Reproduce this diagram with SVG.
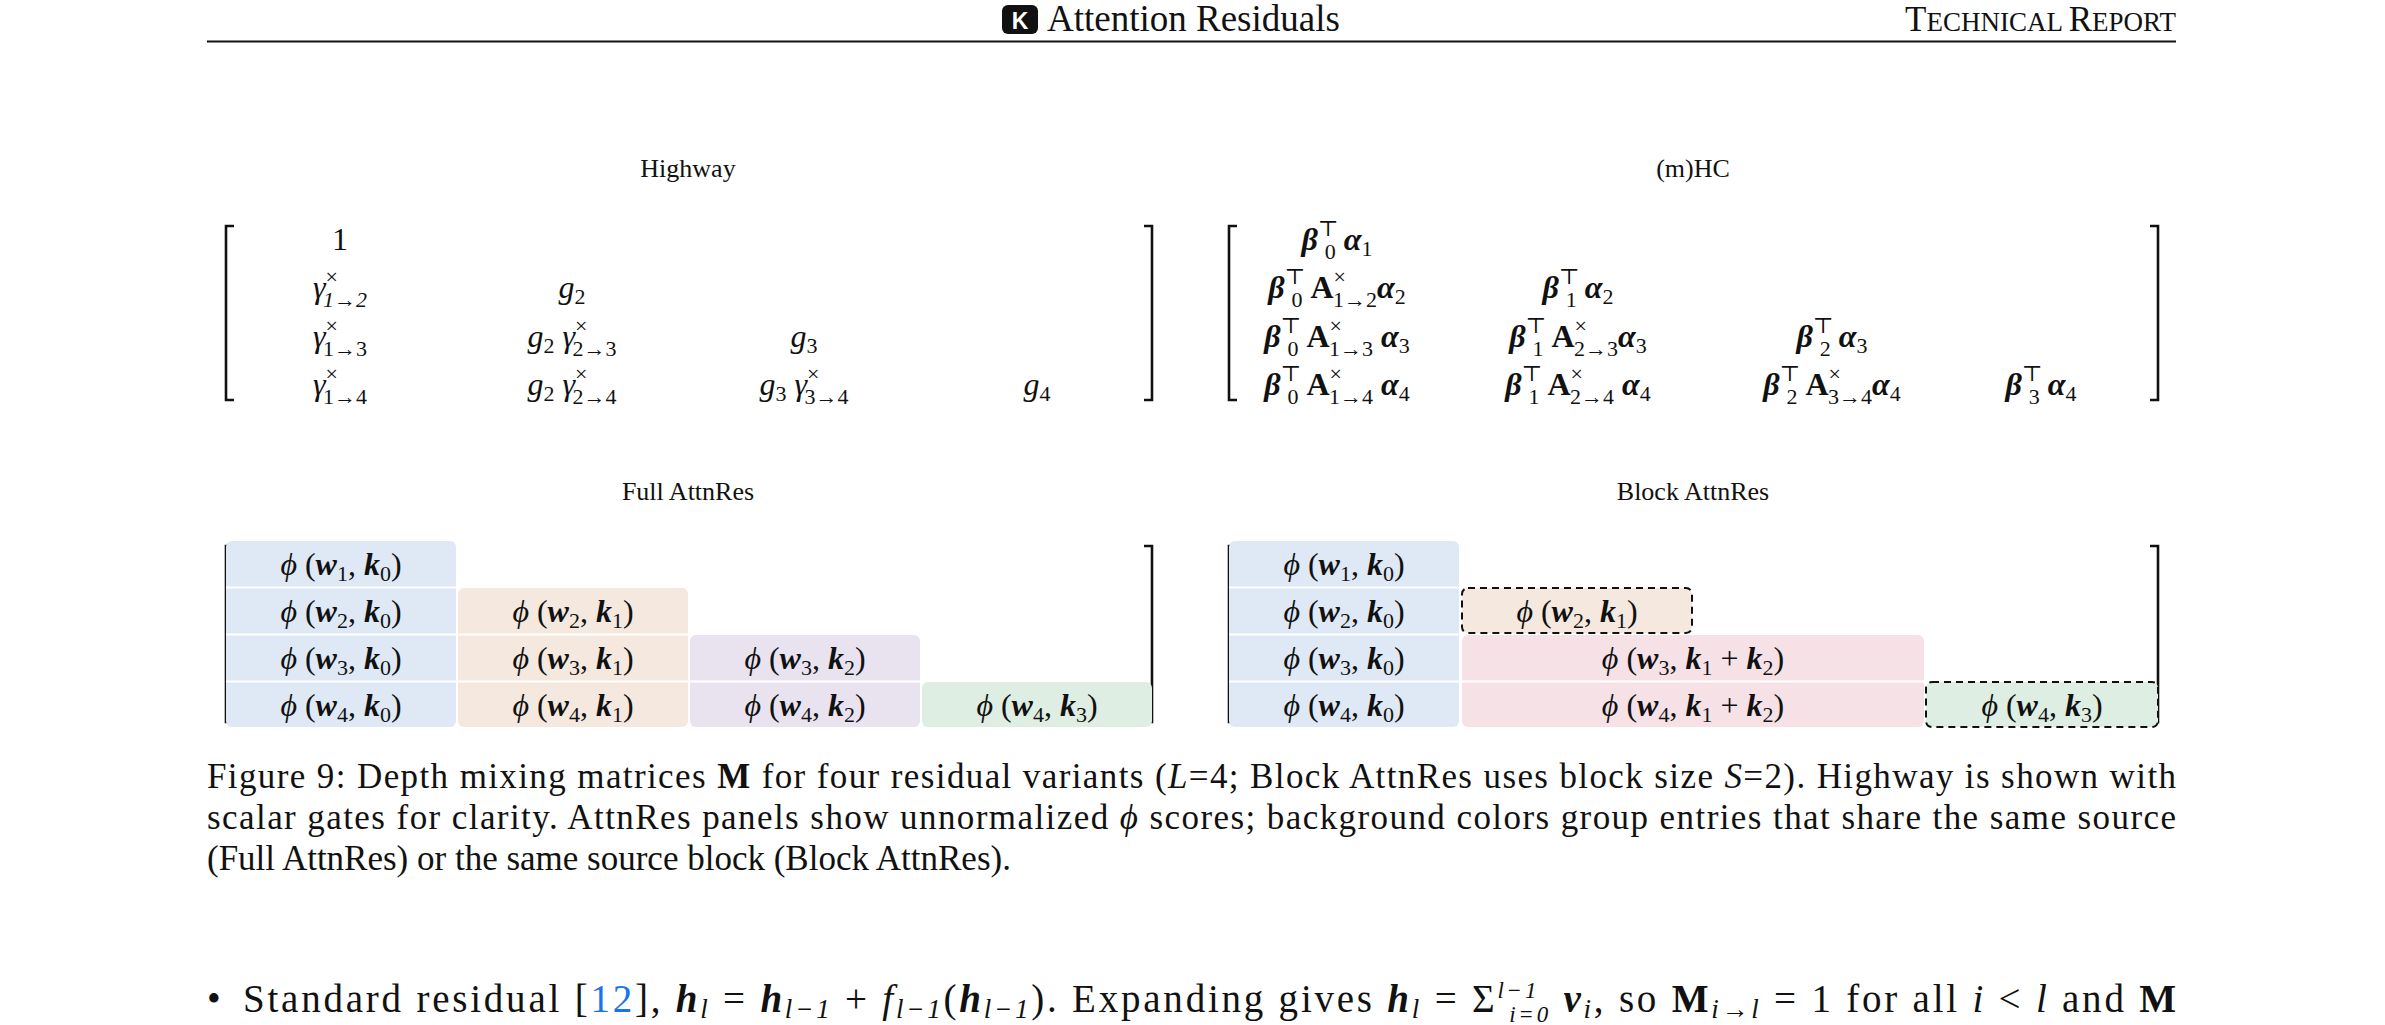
<svg xmlns="http://www.w3.org/2000/svg" width="2385" height="1025" viewBox="0 0 2385 1025">
<style>
text{font-family:"Liberation Serif","DejaVu Serif",serif;fill:#111}
.m{font-size:32px;text-anchor:middle}
.s{font-size:22px;font-style:normal}
.i{font-style:italic}
.b{font-weight:bold}
.t{font-size:26px;text-anchor:middle}
.cap{font-size:35px}
.bl{font-size:39px}
.q{font-size:27px;font-style:italic}
.br{fill:none;stroke:#111;stroke-width:2.6}
.dash{stroke:#111;stroke-width:2;stroke-dasharray:7 5}
</style>
<rect width="2385" height="1025" fill="#fff"/>
<g id="header">
<rect x="1002" y="5" width="36" height="29" rx="6" fill="#111"/>
<text x="1020" y="29" style="font-family:'Liberation Sans',sans-serif;font-size:23px;font-weight:bold;fill:#fff" text-anchor="middle">K</text>
<text x="1047" y="31" style="font-size:37px">Attention Residuals</text>
<text x="2176" y="31" text-anchor="end" style="font-size:35px">T<tspan style="font-size:27px">ECHNICAL </tspan>R<tspan style="font-size:27px">EPORT</tspan></text>
<line x1="207" y1="41.5" x2="2176" y2="41.5" stroke="#111" stroke-width="2"/>
</g>
<g id="titles">
<text class="t" x="688" y="177">Highway</text>
<text class="t" x="1693" y="177">(m)HC</text>
<text class="t" x="688" y="500">Full AttnRes</text>
<text class="t" x="1693" y="500">Block AttnRes</text>
</g>
<g id="brackets">
<path class="br" d="M234 226 H226 V400 H234 M1144 226 H1152 V400 H1144"/>
<path class="br" d="M1237 226 H1229 V400 H1237 M2150 226 H2158 V400 H2150"/>
<path class="br" d="M234 546 H226 V722 H234 M1144 546 H1152 V722 H1144"/>
<path class="br" d="M1237 546 H1229 V722 H1237 M2150 546 H2158 V722 H2150"/>
</g>
<g id="highway">
<text class="m" x="340" y="250">1</text>
<text class="m" x="340" y="298"><tspan class="i">γ</tspan><tspan class="s" dy="-14">×</tspan><tspan class="s i" dx="-15" dy="23">1→2</tspan></text>
<text class="m" x="572" y="298"><tspan class="i">g</tspan><tspan class="s" dy="6">2</tspan></text>
<text class="m" x="340" y="347"><tspan class="i">γ</tspan><tspan class="s" dy="-14">×</tspan><tspan class="s" dx="-15" dy="23">1→3</tspan></text>
<text class="m" x="572" y="347"><tspan class="i">g</tspan><tspan class="s" dy="6">2</tspan><tspan dy="-6" class="i"> γ</tspan><tspan class="s" dy="-14">×</tspan><tspan class="s" dx="-15" dy="23">2→3</tspan></text>
<text class="m" x="804" y="347"><tspan class="i">g</tspan><tspan class="s" dy="6">3</tspan></text>
<text class="m" x="340" y="395"><tspan class="i">γ</tspan><tspan class="s" dy="-14">×</tspan><tspan class="s" dx="-15" dy="23">1→4</tspan></text>
<text class="m" x="572" y="395"><tspan class="i">g</tspan><tspan class="s" dy="6">2</tspan><tspan dy="-6" class="i"> γ</tspan><tspan class="s" dy="-14">×</tspan><tspan class="s" dx="-15" dy="23">2→4</tspan></text>
<text class="m" x="804" y="395"><tspan class="i">g</tspan><tspan class="s" dy="6">3</tspan><tspan dy="-6" class="i"> γ</tspan><tspan class="s" dy="-14">×</tspan><tspan class="s" dx="-15" dy="23">3→4</tspan></text>
<text class="m" x="1037" y="395"><tspan class="i">g</tspan><tspan class="s" dy="6">4</tspan></text>
</g>
<g id="mhc">
<text class="m" x="1337" y="250"><tspan class="b i">β</tspan><tspan class="s" dy="-14">⊤</tspan><tspan class="s" dx="-14" dy="23">0</tspan><tspan class="b i" dy="-9"> α</tspan><tspan class="s" dy="6">1</tspan></text>
<text class="m" x="1337" y="298"><tspan class="b i">β</tspan><tspan class="s" dy="-14">⊤</tspan><tspan class="s" dx="-14" dy="23">0</tspan><tspan class="b" dy="-9"> A</tspan><tspan class="s" dy="-14">×</tspan><tspan class="s" dx="-13" dy="23">1→2</tspan><tspan class="b i" dy="-9">α</tspan><tspan class="s" dy="6">2</tspan></text>
<text class="m" x="1578" y="298"><tspan class="b i">β</tspan><tspan class="s" dy="-14">⊤</tspan><tspan class="s" dx="-14" dy="23">1</tspan><tspan class="b i" dy="-9"> α</tspan><tspan class="s" dy="6">2</tspan></text>
<text class="m" x="1337" y="347"><tspan class="b i">β</tspan><tspan class="s" dy="-14">⊤</tspan><tspan class="s" dx="-14" dy="23">0</tspan><tspan class="b" dy="-9"> A</tspan><tspan class="s" dy="-14">×</tspan><tspan class="s" dx="-13" dy="23">1→3</tspan><tspan class="b i" dy="-9"> α</tspan><tspan class="s" dy="6">3</tspan></text>
<text class="m" x="1578" y="347"><tspan class="b i">β</tspan><tspan class="s" dy="-14">⊤</tspan><tspan class="s" dx="-14" dy="23">1</tspan><tspan class="b" dy="-9"> A</tspan><tspan class="s" dy="-14">×</tspan><tspan class="s" dx="-13" dy="23">2→3</tspan><tspan class="b i" dy="-9">α</tspan><tspan class="s" dy="6">3</tspan></text>
<text class="m" x="1832" y="347"><tspan class="b i">β</tspan><tspan class="s" dy="-14">⊤</tspan><tspan class="s" dx="-14" dy="23">2</tspan><tspan class="b i" dy="-9"> α</tspan><tspan class="s" dy="6">3</tspan></text>
<text class="m" x="1337" y="395"><tspan class="b i">β</tspan><tspan class="s" dy="-14">⊤</tspan><tspan class="s" dx="-14" dy="23">0</tspan><tspan class="b" dy="-9"> A</tspan><tspan class="s" dy="-14">×</tspan><tspan class="s" dx="-13" dy="23">1→4</tspan><tspan class="b i" dy="-9"> α</tspan><tspan class="s" dy="6">4</tspan></text>
<text class="m" x="1578" y="395"><tspan class="b i">β</tspan><tspan class="s" dy="-14">⊤</tspan><tspan class="s" dx="-14" dy="23">1</tspan><tspan class="b" dy="-9"> A</tspan><tspan class="s" dy="-14">×</tspan><tspan class="s" dx="-13" dy="23">2→4</tspan><tspan class="b i" dy="-9"> α</tspan><tspan class="s" dy="6">4</tspan></text>
<text class="m" x="1832" y="395"><tspan class="b i">β</tspan><tspan class="s" dy="-14">⊤</tspan><tspan class="s" dx="-14" dy="23">2</tspan><tspan class="b" dy="-9"> A</tspan><tspan class="s" dy="-14">×</tspan><tspan class="s" dx="-13" dy="23">3→4</tspan><tspan class="b i" dy="-9">α</tspan><tspan class="s" dy="6">4</tspan></text>
<text class="m" x="2041" y="395"><tspan class="b i">β</tspan><tspan class="s" dy="-14">⊤</tspan><tspan class="s" dx="-14" dy="23">3</tspan><tspan class="b i" dy="-9"> α</tspan><tspan class="s" dy="6">4</tspan></text>
</g>
<g id="full-cells">
<rect x="226" y="541" width="230" height="186" rx="6" fill="#dfe9f5"/>
<rect x="458" y="588" width="230" height="139" rx="6" fill="#f5e8de"/>
<rect x="690" y="635" width="230" height="92" rx="6" fill="#e9e3f0"/>
<rect x="922" y="682" width="230" height="45" rx="6" fill="#deeee2"/>
<g stroke="#fff" stroke-width="2"><line x1="226" y1="587.5" x2="456" y2="587.5"/><line x1="226" y1="634.5" x2="688" y2="634.5"/><line x1="226" y1="681.5" x2="920" y2="681.5"/></g>
</g>
<g id="block-cells">
<rect x="1229" y="541" width="230" height="186" rx="6" fill="#dfe9f5"/>
<rect x="1462" y="588" width="230" height="45" rx="6" fill="#f5e8de" class="dash"/>
<rect x="1462" y="635" width="462" height="92" rx="6" fill="#f6e1e7"/>
<rect x="1926" y="682" width="232" height="45" rx="6" fill="#deeee2" class="dash"/>
<g stroke="#fff" stroke-width="2"><line x1="1229" y1="587.5" x2="1459" y2="587.5"/><line x1="1229" y1="634.5" x2="1459" y2="634.5"/><line x1="1229" y1="681.5" x2="1924" y2="681.5"/></g>
</g>
<g id="full-text">
<text class="m" x="341" y="575"><tspan class="i">ϕ</tspan> (<tspan class="b i">w</tspan><tspan class="s" dy="6">1</tspan><tspan dy="-6">, </tspan><tspan class="b i">k</tspan><tspan class="s" dy="6">0</tspan><tspan dy="-6">)</tspan></text>
<text class="m" x="341" y="622"><tspan class="i">ϕ</tspan> (<tspan class="b i">w</tspan><tspan class="s" dy="6">2</tspan><tspan dy="-6">, </tspan><tspan class="b i">k</tspan><tspan class="s" dy="6">0</tspan><tspan dy="-6">)</tspan></text>
<text class="m" x="341" y="669"><tspan class="i">ϕ</tspan> (<tspan class="b i">w</tspan><tspan class="s" dy="6">3</tspan><tspan dy="-6">, </tspan><tspan class="b i">k</tspan><tspan class="s" dy="6">0</tspan><tspan dy="-6">)</tspan></text>
<text class="m" x="341" y="716"><tspan class="i">ϕ</tspan> (<tspan class="b i">w</tspan><tspan class="s" dy="6">4</tspan><tspan dy="-6">, </tspan><tspan class="b i">k</tspan><tspan class="s" dy="6">0</tspan><tspan dy="-6">)</tspan></text>
<text class="m" x="573" y="622"><tspan class="i">ϕ</tspan> (<tspan class="b i">w</tspan><tspan class="s" dy="6">2</tspan><tspan dy="-6">, </tspan><tspan class="b i">k</tspan><tspan class="s" dy="6">1</tspan><tspan dy="-6">)</tspan></text>
<text class="m" x="573" y="669"><tspan class="i">ϕ</tspan> (<tspan class="b i">w</tspan><tspan class="s" dy="6">3</tspan><tspan dy="-6">, </tspan><tspan class="b i">k</tspan><tspan class="s" dy="6">1</tspan><tspan dy="-6">)</tspan></text>
<text class="m" x="573" y="716"><tspan class="i">ϕ</tspan> (<tspan class="b i">w</tspan><tspan class="s" dy="6">4</tspan><tspan dy="-6">, </tspan><tspan class="b i">k</tspan><tspan class="s" dy="6">1</tspan><tspan dy="-6">)</tspan></text>
<text class="m" x="805" y="669"><tspan class="i">ϕ</tspan> (<tspan class="b i">w</tspan><tspan class="s" dy="6">3</tspan><tspan dy="-6">, </tspan><tspan class="b i">k</tspan><tspan class="s" dy="6">2</tspan><tspan dy="-6">)</tspan></text>
<text class="m" x="805" y="716"><tspan class="i">ϕ</tspan> (<tspan class="b i">w</tspan><tspan class="s" dy="6">4</tspan><tspan dy="-6">, </tspan><tspan class="b i">k</tspan><tspan class="s" dy="6">2</tspan><tspan dy="-6">)</tspan></text>
<text class="m" x="1037" y="716"><tspan class="i">ϕ</tspan> (<tspan class="b i">w</tspan><tspan class="s" dy="6">4</tspan><tspan dy="-6">, </tspan><tspan class="b i">k</tspan><tspan class="s" dy="6">3</tspan><tspan dy="-6">)</tspan></text>
</g>
<g id="block-text">
<text class="m" x="1344" y="575"><tspan class="i">ϕ</tspan> (<tspan class="b i">w</tspan><tspan class="s" dy="6">1</tspan><tspan dy="-6">, </tspan><tspan class="b i">k</tspan><tspan class="s" dy="6">0</tspan><tspan dy="-6">)</tspan></text>
<text class="m" x="1344" y="622"><tspan class="i">ϕ</tspan> (<tspan class="b i">w</tspan><tspan class="s" dy="6">2</tspan><tspan dy="-6">, </tspan><tspan class="b i">k</tspan><tspan class="s" dy="6">0</tspan><tspan dy="-6">)</tspan></text>
<text class="m" x="1344" y="669"><tspan class="i">ϕ</tspan> (<tspan class="b i">w</tspan><tspan class="s" dy="6">3</tspan><tspan dy="-6">, </tspan><tspan class="b i">k</tspan><tspan class="s" dy="6">0</tspan><tspan dy="-6">)</tspan></text>
<text class="m" x="1344" y="716"><tspan class="i">ϕ</tspan> (<tspan class="b i">w</tspan><tspan class="s" dy="6">4</tspan><tspan dy="-6">, </tspan><tspan class="b i">k</tspan><tspan class="s" dy="6">0</tspan><tspan dy="-6">)</tspan></text>
<text class="m" x="1577" y="622"><tspan class="i">ϕ</tspan> (<tspan class="b i">w</tspan><tspan class="s" dy="6">2</tspan><tspan dy="-6">, </tspan><tspan class="b i">k</tspan><tspan class="s" dy="6">1</tspan><tspan dy="-6">)</tspan></text>
<text class="m" x="1693" y="669"><tspan class="i">ϕ</tspan> (<tspan class="b i">w</tspan><tspan class="s" dy="6">3</tspan><tspan dy="-6">, </tspan><tspan class="b i">k</tspan><tspan class="s" dy="6">1</tspan><tspan dy="-6"> + </tspan><tspan class="b i">k</tspan><tspan class="s" dy="6">2</tspan><tspan dy="-6">)</tspan></text>
<text class="m" x="1693" y="716"><tspan class="i">ϕ</tspan> (<tspan class="b i">w</tspan><tspan class="s" dy="6">4</tspan><tspan dy="-6">, </tspan><tspan class="b i">k</tspan><tspan class="s" dy="6">1</tspan><tspan dy="-6"> + </tspan><tspan class="b i">k</tspan><tspan class="s" dy="6">2</tspan><tspan dy="-6">)</tspan></text>
<text class="m" x="2042" y="716"><tspan class="i">ϕ</tspan> (<tspan class="b i">w</tspan><tspan class="s" dy="6">4</tspan><tspan dy="-6">, </tspan><tspan class="b i">k</tspan><tspan class="s" dy="6">3</tspan><tspan dy="-6">)</tspan></text>
</g>
<g id="caption">
<text class="cap" x="207" y="788" textLength="1969" lengthAdjust="spacing">Figure 9: Depth mixing matrices <tspan class="b">M</tspan> for four residual variants (<tspan class="i">L</tspan>=4; Block AttnRes uses block size <tspan class="i">S</tspan>=2). Highway is shown with</text>
<text class="cap" x="207" y="829" textLength="1969" lengthAdjust="spacing">scalar gates for clarity. AttnRes panels show unnormalized <tspan class="i">ϕ</tspan> scores; background colors group entries that share the same source</text>
<text class="cap" x="207" y="870">(Full AttnRes) or the same source block (Block AttnRes).</text>
</g>
<g id="bullet">
<text class="bl" x="207" y="1012">•</text>
<text class="bl" x="243" y="1012" textLength="1933" lengthAdjust="spacing">Standard residual [<tspan fill="#1a73e8">12</tspan>], <tspan class="b i">h</tspan><tspan class="q" dy="6">l</tspan><tspan dy="-6">  =  </tspan><tspan class="b i">h</tspan><tspan class="q" dy="6">l−1</tspan><tspan dy="-6">  +  </tspan><tspan class="i">f</tspan><tspan class="q" dy="6">l−1</tspan><tspan dy="-6">(</tspan><tspan class="b i">h</tspan><tspan class="q" dy="6">l−1</tspan><tspan dy="-6">). Expanding gives </tspan><tspan class="b i">h</tspan><tspan class="q" dy="6">l</tspan><tspan dy="-6">  =  Σ</tspan><tspan style="font-size:23px" dy="-14" class="i">l−1</tspan><tspan style="font-size:23px" dx="-30" dy="24" class="i">i=0</tspan><tspan dy="-10"> </tspan><tspan class="b i">v</tspan><tspan class="q" dy="6">i</tspan><tspan dy="-6">, so </tspan><tspan class="b">M</tspan><tspan class="q" dy="6">i→l</tspan><tspan dy="-6">  =  1 for all </tspan><tspan class="i">i</tspan> &lt; <tspan class="i">l</tspan> and <tspan class="b">M</tspan></text>
</g>
</svg>
